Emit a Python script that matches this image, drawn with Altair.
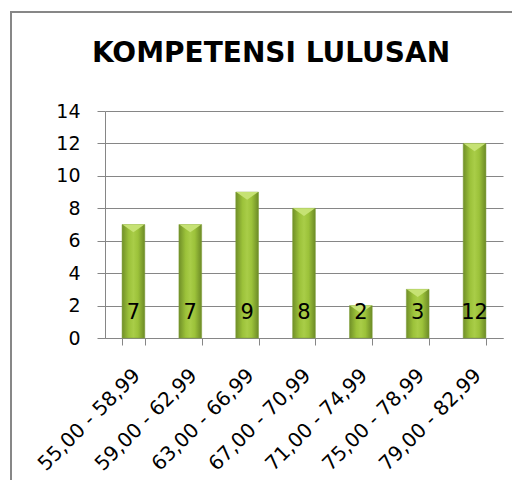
import altair as alt
import pandas as pd

categories = ["55,00 - 58,99", "59,00 - 62,99", "63,00 - 66,99", "67,00 - 70,99",
              "71,00 - 74,99", "75,00 - 78,99", "79,00 - 82,99"]
values = [7, 7, 9, 8, 2, 3, 12]
y_ticks = [0, 2, 4, 6, 8, 10, 12, 14]

df = pd.DataFrame({"kelas": categories, "jumlah": values})

FONT = "DejaVu Sans"
GRID = "#868686"

x_axis = alt.Axis(labelAngle=-45, labelAlign="right", labelBaseline="middle",
                  labelFont=FONT, labelFontSize=20, labelColor="#000000",
                  tickBand="extent", tickSize=7, tickColor=GRID,
                  domainColor=GRID, labelPadding=27, labelOffset=3, grid=False,
                  labelOverlap=False)
x_scale = alt.Scale(paddingInner=0.6, paddingOuter=0.3)
y_axis = alt.Axis(values=y_ticks, labelFont=FONT, labelFontSize=19,
                  labelColor="#000000", tickSize=8, tickColor=GRID,
                  domainColor=GRID, grid=True, gridColor=GRID, gridOpacity=1,
                  labelPadding=17, labelOverlap=False)
y_scale = alt.Scale(domain=[0, 14], nice=False)


def xe():
    return alt.X("kelas:N", sort=categories, title=None, scale=x_scale, axis=x_axis)


def ye(field):
    return alt.Y(field, title=None, scale=y_scale, axis=y_axis)


base = alt.Chart(df)

frame = base.mark_rect(fill=None, stroke="#878787", strokeWidth=2, filled=False).encode(
    x=alt.value(-94), x2=alt.value(600), y=alt.value(-99), y2=alt.value(600)
).transform_filter(alt.datum.kelas == categories[0])

bars = base.mark_bar(
    color=alt.Gradient(
        gradient="linear", x1=0, x2=1, y1=0, y2=0,
        stops=[alt.GradientStop(color="#708f28", offset=0),
               alt.GradientStop(color="#9cc23a", offset=0.3),
               alt.GradientStop(color="#a9cd48", offset=0.5),
               alt.GradientStop(color="#9cc23a", offset=0.7),
               alt.GradientStop(color="#6c8a26", offset=1)]),
    stroke="#7f9e38", strokeWidth=0.5
).encode(x=xe(), y=ye("jumlah:Q"))

caps = base.mark_point(shape="M-1,0L1,0L0,0.7Z", filled=True, color="#c6e274",
                       opacity=1, size=484, strokeWidth=0).encode(
    x=xe(), y=ye("jumlah:Q"))

labels = base.transform_calculate(nol="0").mark_text(
    font=FONT, fontSize=21, color="#000000", baseline="alphabetic", dy=-19
).encode(x=xe(), y=ye("nol:Q"), text="jumlah:Q")

chart = alt.layer(frame, bars, caps, labels).properties(
    width=398, height=227,
    autosize=alt.AutoSizeParams(type="none"),
    padding={"left": 97, "top": 103, "right": 9, "bottom": 142},
    title=alt.TitleParams("KOMPETENSI LULUSAN", font=FONT, fontSize=28,
                          fontWeight="bold", color="#000000", anchor="middle",
                          dx=-33, offset=-57),
).configure_view(stroke=None)

chart.save("out.html", embed_options={"renderer": "svg", "actions": False})
